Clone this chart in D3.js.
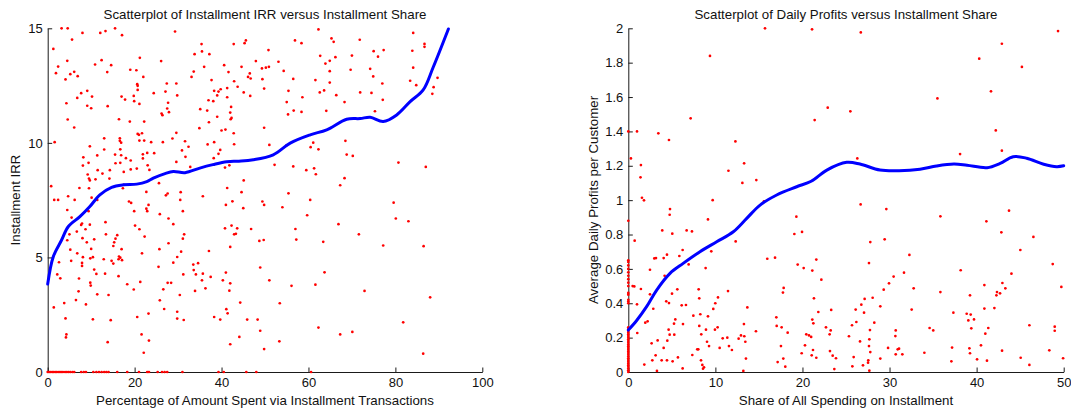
<!DOCTYPE html>
<html>
<head>
<meta charset="utf-8">
<script src="https://cdn.jsdelivr.net/npm/d3@7"></script>
<style>
  html, body { margin: 0; padding: 0; background: #fff; }
  svg { display: block; font-family: "Liberation Sans", Arial, Helvetica, sans-serif; }
</style>
</head>
<body>
<svg id="chart" width="1071" height="410"></svg>
<script>
// ---------- Left panel: installment IRR vs. installment share ----------
const irrPoints = [
  [3.2,15.0],[4.6,15.0],[8.0,14.8],[12.1,14.8],[13.3,14.88],[15.5,15.0],[17.1,14.7],[29.3,14.86],
  [5.6,14.51],[1.3,14.1],[35.4,14.31],[33.8,13.87],[35.5,13.99],[37.2,13.87],[42.8,14.31],[45.3,14.35],
  [45.6,14.47],[21.2,13.71],[26.1,13.57],[12.4,13.61],[10.9,13.42],[14.6,13.39],[4.5,13.58],[2.4,13.33],
  [1.9,13.04],[5.2,13.0],[6.1,13.1],[6.9,12.91],[4.1,12.77],[13.7,13.09],[19.0,13.19],[20.4,13.17],
  [22.0,12.88],[20.6,12.56],[20.7,12.49],[20.7,12.31],[27.4,12.59],[29.6,12.59],[33.6,13.11],[33.1,12.88],
  [36.0,13.32],[37.7,12.74],[40.6,13.39],[41.6,13.09],[44.6,13.32],[47.9,13.57],[46.5,13.03],[46.1,12.88],
  [46.7,12.81],[42.9,12.69],[43.7,12.45],[45.1,12.2],[46.6,12.05],[49.4,12.78],[49.8,12.37],[41.3,12.39],
  [38.3,12.27],[39.3,12.24],[39.0,12.07],[39.8,12.34],[37.0,11.86],[38.1,11.82],[41.3,11.99],[42.2,11.57],
  [42.0,11.32],[42.3,11.09],[42.1,11.03],[39.0,11.14],[37.1,10.9],[40.0,10.54],[40.9,10.58],[42.8,10.42],
  [36.7,11.41],[35.1,11.47],[34.9,10.64],[49.8,10.66],[7.7,12.17],[9.1,12.27],[6.8,11.96],[10.2,12.02],
  [4.3,11.73],[9.1,11.62],[10.0,11.51],[13.8,11.6],[17.0,12.02],[17.8,11.89],[19.8,12.05],[19.9,11.82],
  [21.1,11.7],[24.4,12.17],[27.1,12.24],[29.8,12.07],[27.7,11.75],[27.5,11.5],[27.9,11.34],[26.2,11.28],
  [26.4,11.21],[4.6,11.02],[6.1,10.67],[16.4,11.03],[18.9,10.93],[22.2,10.93],[1.6,10.03],[13.0,10.2],
  [16.6,10.2],[16.6,10.09],[16.9,10.01],[21.0,10.35],[20.7,10.39],[21.7,10.42],[22.2,10.1],[21.1,10.1],
  [23.8,10.03],[26.5,10.03],[28.7,10.19],[29.6,10.44],[31.6,10.07],[32.4,9.83],[30.9,9.67],[36.8,9.93],
  [38.3,10.03],[39.7,9.69],[42.9,9.94],[9.7,9.85],[13.0,9.71],[16.7,9.72],[11.4,9.45],[8.2,9.37],
  [9.4,9.13],[15.5,9.49],[16.9,9.46],[18.0,9.33],[19.1,9.23],[21.9,9.5],[22.9,9.56],[24.5,9.55],
  [8.1,9.01],[11.5,8.81],[12.6,8.66],[14.3,8.81],[15.6,9.11],[16.7,9.13],[17.5,8.73],[19.1,8.84],
  [20.5,8.88],[21.9,9.32],[23.0,9.02],[23.4,8.82],[29.6,9.17],[31.7,9.39],[32.8,8.95],[38.2,9.33],
  [39.3,9.52],[40.8,8.92],[41.8,9.02],[9.2,8.62],[9.5,8.44],[9.7,8.36],[11.0,8.41],[14.2,8.44],
  [17.5,8.17],[17.3,8.02],[25.6,8.24],[0.8,8.11],[7.3,8.03],[9.5,8.02],[45.1,8.36],[41.3,8.03],
  [44.6,7.85],[22.7,7.86],[27.6,7.79],[30.6,7.85],
  [1.5,7.51],[2.4,7.51],[4.7,7.67],[6.2,7.51],[10.1,7.61],[11.4,7.51],[18.7,7.44],[19.2,7.38],
  [19.9,7.02],[22.7,7.13],[22.9,7.02],[23.2,7.29],[27.2,7.71],[30.5,7.51],[31.1,7.02],[35.7,7.67],
  [41.0,7.29],[42.5,7.45],[45.0,7.15],[49.4,7.44],[49.8,7.29],[4.5,7.07],[5.5,6.74],[9.4,7.02],
  [25.8,6.89],[27.8,6.7],[28.9,6.45],[9.7,6.43],[7.9,6.48],[7.7,6.42],[8.7,6.23],[6.7,6.13],
  [5.0,6.01],[4.5,5.75],[5.2,5.34],[6.8,5.18],[8.0,5.84],[9.0,5.66],[10.0,5.37],[10.7,5.79],
  [13.3,6.54],[13.4,6.01],[16.0,5.97],[15.6,5.82],[15.3,5.66],[15.1,5.5],[17.0,5.36],[20.1,6.39],
  [21.1,6.23],[22.3,5.91],[21.7,5.18],[25.7,5.36],[27.8,5.62],[30.7,5.25],[29.8,5.02],[28.9,4.77],
  [31.1,5.82],[31.4,6.01],[40.8,6.27],[42.3,6.39],[43.6,6.27],[42.9,6.01],[43.3,6.03],[42.0,5.46],
  [46.8,6.24],[48.7,5.72],[49.7,5.76],[37.1,5.28],[2.6,4.79],[5.4,4.85],[8.1,5.01],[10.4,5.01],
  [7.9,4.76],[7.9,4.63],[9.8,4.96],[10.7,4.47],[11.2,4.28],[12.9,4.92],[13.2,4.29],[14.7,4.85],
  [15.1,4.73],[16.3,4.92],[16.4,5.04],[16.7,4.99],[17.1,4.88],[16.3,4.18],[25.5,4.59],[33.5,4.69],
  [34.6,4.75],[33.6,4.45],[34.1,4.26],[35.7,4.29],[37.5,4.15],[35.5,4.0],[36.3,3.65],[31.2,4.26],
  [2.2,4.26],[2.9,4.09],[7.2,4.08],[9.8,3.9],[9.9,3.77],[11.4,3.39],[14.0,3.36],[18.3,3.83],
  [19.8,3.6],[21.3,3.93],[27.6,3.89],[28.4,3.89],[26.6,3.61],[25.8,3.13],[26.8,2.75],[30.4,3.36],
  [33.9,3.54],[40.3,4.0],[41.0,4.34],[42.0,3.87],[41.8,3.55],[48.9,4.56],[44.3,3.03],[1.4,2.82],
  [3.8,3.01],[6.5,3.14],[7.1,3.52],[8.8,2.95],[10.4,2.3],[14.5,2.26],[20.6,2.4],[23.2,2.55],
  [29.8,2.63],[29.8,2.33],[31.3,2.27],[38.3,2.4],[39.7,2.29],[41.1,2.74],[41.4,2.56],[45.9,2.29],
  [48.3,2.29],[48.9,1.8],[49.8,1.0],[44.1,1.53],[42.0,1.21],[4.1,2.34],[4.3,1.64],[4.2,1.51],
  [13.8,1.3],[21.6,1.64],[23.3,1.37],[22.1,0.84],
  [60.4,7.51],[54.0,7.19],[59.7,6.84],[79.6,7.39],[80.1,6.7],[83.0,6.58],[57.0,6.24],[66.9,6.45],
  [71.6,6.01],[57.2,5.78],[63.4,5.68],[77.2,5.52],[86.5,5.49],[63.7,4.35],[51.0,4.0],[56.1,3.76],
  [61.6,3.81],[72.9,3.54],[88.0,3.26],[53.4,3.0],[81.8,2.17],[62.3,1.94],[67.3,1.64],[70.1,1.75],
  [53.3,1.34],[86.4,0.8],
  [62.3,14.95],[56.9,14.47],[58.4,14.35],[65.3,14.56],[65.8,14.41],[71.8,14.5],[50.8,14.05],[62.7,13.8],
  [63.9,13.46],[64.9,13.58],[66.2,13.74],[70.0,13.81],[75.0,14.0],[76.0,13.76],[77.3,14.05],[84.1,14.8],
  [86.7,14.32],[86.7,14.19],[83.9,14.02],[49.3,13.25],[50.2,13.28],[50.9,13.32],[53.1,13.54],[54.3,13.14],
  [56.5,12.79],[61.6,12.74],[64.9,13.13],[64.9,12.63],[63.6,12.29],[62.6,12.2],[55.4,12.27],[55.0,11.78],
  [58.6,11.99],[66.4,12.08],[68.3,11.78],[69.7,13.19],[74.2,13.23],[74.9,12.9],[77.0,12.59],[71.9,12.2],
  [74.5,12.18],[77.1,11.88],[84.1,13.28],[83.4,12.71],[84.8,12.52],[89.7,12.84],[88.8,12.43],[88.5,12.14],
  [56.6,11.41],[55.3,11.24],[58.4,11.35],[64.1,11.4],[75.3,11.38],[51.0,9.91],[54.9,9.88],[61.1,10.01],
  [60.5,9.81],[62.3,9.72],[68.5,10.09],[68.8,9.49],[70.2,9.43],[52.2,9.04],[56.5,8.97],[59.5,8.81],
  [61.3,8.89],[61.7,8.63],[68.3,8.46],[67.3,8.15],[80.7,9.14],[87.0,8.95],[55.4,7.8]
];
// customers whose installment IRR is zero
const irrZeroShares = [
  0,0.3,0.6,1.0,1.3,1.7,2.0,2.4,2.8,3.1,3.5,4.0,4.4,4.8,5.2,5.7,6.1,
  7.7,8.3,8.8,10.5,11.2,11.8,12.4,13.0,13.5,14.0,16.0,18.3,21.0,22.9,23.3,
  25.3,26.3,26.9,27.5,31.0,39.3,40.5,45.7,48.0,60.6
];
// smoothed fit of IRR on share
const irrFit = [
  [0,3.84],[1.3,5.04],[3.2,5.76],[4.75,6.35],[7.4,6.78],[9.7,7.22],[12,7.73],[14.7,8.06],
  [17.4,8.17],[20.5,8.2],[22.8,8.31],[24.3,8.46],[27,8.66],[28.9,8.75],[31.6,8.7],[35,8.9],
  [38,9.05],[41.2,9.18],[44,9.2],[47.3,9.26],[51.9,9.48],[55.8,9.99],[60.4,10.35],[64.2,10.57],
  [68.8,11.03],[71.9,11.06],[74.2,11.12],[77.2,10.93],[80.3,11.22],[83.4,11.8],[86.4,12.31],
  [88.7,13.3],[92.2,14.97]
];
const irrXTicks = [0, 20, 40, 60, 80, 100];
const irrYTicks = [0, 5, 10, 15];

// ---------- Right panel: daily profits vs. installment share ----------
const profitPoints = [
  [0.0,1.40],[1.0,1.40],[0.3,1.243],[1.45,1.204],[1.4,1.133],[3.45,1.389],[4.67,1.35],[7.16,1.476],
  [9.38,1.839],[12.3,1.342],[11.5,1.171],[13.3,1.214],[13.1,1.10],[14.7,1.117],[15.7,2.0],[21.1,1.994],
  [22.9,1.538],[21.4,1.466],
  [26.7,1.976],[25.5,1.517],[26.3,1.243],[35.5,1.592],[40.3,1.823],[42.9,1.91],[45.2,1.775],[41.65,1.633],
  [42.2,1.406],[42.9,1.288],[38.1,1.268],[49.35,1.984],
  [1.57,1.014],[1.8,0.999],[9.69,1.0],[15.58,0.993],[4.79,0.948],[4.75,0.915],[5.05,0.805],[3.9,0.824],
  [0.73,0.764],[6.7,0.824],[7.31,0.818],[9.15,0.888],[9.53,0.702],[12.33,0.76],[6.24,0.71],[5.86,0.675],
  [4.44,0.683],[4.06,0.663],[2.99,0.661],[3.18,0.663],[2.49,0.595],[4.17,0.56],[6.93,0.626],[8.88,0.605],
  [0.5,0.5],[0.69,0.498],[1.45,0.483],[2.49,0.452],[1.0,0.394],[4.36,0.411],[4.67,0.401],[5.63,0.481],
  [5.02,0.456],[2.87,0.368],[6.13,0.388],[6.62,0.39],[8.08,0.481],[8.15,0.429],[5.4,0.306],[5.25,0.281],
  [6.28,0.279],[7.47,0.328],[8.27,0.336],[9.15,0.324],[9.76,0.367],[9.99,0.40],[10.3,0.434],[11.45,0.471],
  [13.67,0.376],[1.03,0.227],[1.95,0.287],[2.22,0.295],[4.63,0.246],[4.75,0.217],[5.28,0.217],[4.48,0.182],
  [3.37,0.184],[2.68,0.167],[8.15,0.268],[8.38,0.219],[9.04,0.176],[9.27,0.151],[7.92,0.132],[8.04,0.132],
  [4.06,0.14],[3.14,0.097],[2.76,0.068],[3.83,0.068],[4.44,0.068],[5.09,0.062],[5.7,0.085],[7.35,0.099],
  [8.35,0.068],[8.5,0.041],[8.69,0.027],[8.58,0.019],[6.24,0.021],[1.84,0.043],[3.29,0.006],[8.92,0.246],
  [9.95,0.246],[10.26,0.26],[10.49,0.14],[10.84,0.196],[11.37,0.2],[11.56,0.151],[11.9,0.128],[12.67,0.194],
  [12.94,0.213],[13.32,0.208],[13.44,0.176],[13.28,0.279],[13.51,0.078],[13.21,0.006],[14.66,0.237],[15.96,0.659],
  [16.85,0.665],[17.04,0.268],[17.15,0.058],[17.61,0.26],[17.84,0.489],[17.76,0.462],[17.53,0.151],[17.8,0.078],
  [18.03,0.031],[18.3,0.229],[17.0,0.318],[19.07,0.803],[19.3,0.904],[19.95,0.815],[19.45,0.625],[20.14,0.605],
  [21.13,0.59],[21.59,0.654],[22.17,0.537],[21.32,0.429],[21.82,0.349],[21.13,0.305],[21.25,0.283],[20.44,0.219],
  [20.75,0.213],[21.0,0.204],[20.29,0.155],[19.91,0.109],[21.21,0.128],[21.06,0.097],[21.59,0.083],[22.7,0.26],
  [23.24,0.242],[23.12,0.219],[23.3,0.361],[23.16,0.122],[23.47,0.095],[23.85,0.08],[23.66,0.017],
  [26.68,0.975],[29.63,0.948],[35.84,0.906],[41.12,0.877],[43.72,0.939],[42.84,0.813],[46.52,0.786],[27.79,0.756],
  [29.44,0.772],[45.02,0.71],[32.28,0.681],[27.64,0.634],[48.74,0.628],[38.17,0.592],[44.0,0.572],[30.47,0.555],
  [31.66,0.578],[29.94,0.516],[29.33,0.479],[32.77,0.487],[35.84,0.465],[39.24,0.446],[40.89,0.506],[42.96,0.518],
  [43.3,0.487],[42.34,0.465],[42.27,0.446],[42.69,0.458],[49.73,0.495],[27.14,0.425],[28.06,0.432],[26.76,0.392],
  [26.11,0.363],[28.94,0.382],[32.54,0.363],[27.07,0.345],[37.33,0.345],[38.86,0.339],[39.32,0.334],[40.89,0.369],
  [42.04,0.372],[39.05,0.3],[39.7,0.306],[25.69,0.272],[26.19,0.291],[28.25,0.287],[27.75,0.244],[30.71,0.242],
  [30.67,0.209],[34.6,0.256],[35.02,0.242],[39.39,0.254],[41.34,0.256],[41.0,0.223],[46.06,0.272],[48.97,0.264],
  [48.97,0.24],[25.34,0.208],[26.61,0.178],[27.68,0.19],[27.64,0.151],[27.79,0.116],[29.83,0.14],[30.94,0.132],
  [31.09,0.136],[30.71,0.103],[31.47,0.103],[34.0,0.112],[37.18,0.142],[39.17,0.138],[39.24,0.109],[40.5,0.155],
  [42.92,0.124],[48.35,0.126],[25.88,0.087],[28.94,0.078],[27.56,0.068],[27.53,0.054],[26.95,0.039],[25.73,0.033],
  [27.68,0.008],[37.1,0.062],[40.05,0.074],[41.19,0.066],[45.06,0.083],[46.06,0.041],[49.93,0.08]
];
// customers with no installment spending
const profitZeroValues = [
  0.88,0.65,0.64,0.62,0.6,0.58,0.56,0.54,0.52,0.5,0.46,0.45,0.42,0.41,0.4,
  0.26,0.25,0.24,0.23,0.22,0.21,0.2,0.19,0.18,0.17,0.16,0.15,0.14,0.13,0.12,
  0.11,0.1,0.09,0.08,0.07,0.06,0.05,0.04,0.03,0.02,0.01,0
];
// smoothed fit of profits on share
const profitFit = [
  [0,0.244],[0.96,0.30],[2.1,0.38],[3.26,0.477],[4.79,0.574],[6.3,0.632],[8.23,0.70],[10.15,0.758],
  [12.06,0.816],[13.6,0.894],[15.1,0.97],[17.04,1.03],[19.34,1.078],[21.0,1.11],[22.8,1.175],[25.08,1.22],
  [26.6,1.21],[28.9,1.175],[31.1,1.171],[33.5,1.18],[35.4,1.199],[37.4,1.21],[38.9,1.203],[41.2,1.189],
  [42.7,1.214],[44.2,1.253],[45.75,1.244],[47.7,1.209],[49.2,1.195],[50,1.2]
];
const profitXTicks = [0, 10, 20, 30, 40, 50];
const profitYTicks = [0, 0.2, 0.4, 0.6, 0.8, 1, 1.2, 1.4, 1.6, 1.8, 2];

const svg = d3.select("#chart");

function panel(opts) {
  const x = d3.scaleLinear().domain(opts.xDomain).range([opts.left, opts.right]);
  const y = d3.scaleLinear().domain(opts.yDomain).range([372, 28.3]);
  const g = svg.append("g");

  // axes first so the markers sit on top of the axis lines
  const xAxis = g.append("g").attr("transform", "translate(0,372)")
    .call(d3.axisBottom(x).tickValues(opts.xTicks).tickSizeInner(-4.5).tickSizeOuter(0).tickPadding(6).tickFormat(d3.format("~g")));
  const yAxis = g.append("g").attr("transform", `translate(${opts.left},0)`)
    .call(d3.axisLeft(y).tickValues(opts.yTicks).tickSizeInner(-4.5).tickSizeOuter(0).tickPadding(5).tickFormat(d3.format("~g")));
  [xAxis, yAxis].forEach(a => {
    a.selectAll("path, line").attr("stroke", "#1a1a1a");
    a.selectAll("text").attr("font-size", 13).attr("fill", "#111")
      .attr("font-family", "'Liberation Sans', Arial, sans-serif");
  });

  const dots = g.append("g").attr("fill", "#ff0000");
  dots.selectAll("circle.p").data(opts.points).join("circle")
    .attr("cx", d => x(d[0])).attr("cy", d => y(d[1])).attr("r", 1.35);
  dots.selectAll("circle.z").data(opts.zeroPoints).join("circle")
    .attr("cx", d => x(d[0])).attr("cy", d => y(d[1])).attr("r", 1.35);

  g.append("path").datum(opts.fit)
    .attr("fill", "none").attr("stroke", "#0000ff").attr("stroke-width", 3)
    .attr("stroke-linejoin", "round").attr("stroke-linecap", "round")
    .attr("d", d3.line().x(d => x(d[0])).y(d => y(d[1])).curve(d3.curveCatmullRom.alpha(0.5)));

  const cx = (opts.left + opts.right) / 2;
  g.append("text").attr("x", cx).attr("y", 18.5).attr("text-anchor", "middle")
    .attr("font-size", 13.3).attr("fill", "#111").text(opts.title);
  g.append("text").attr("x", cx).attr("y", 404.5).attr("text-anchor", "middle")
    .attr("font-size", 13.3).attr("fill", "#111").text(opts.xLabel);
  g.append("text").attr("transform", `translate(${opts.yLabelX},200) rotate(-90)`)
    .attr("text-anchor", "middle").attr("font-size", 13.3).attr("fill", "#111").text(opts.yLabel);
}

panel({
  left: 47.7, right: 482.3, xDomain: [0, 100], yDomain: [0, 15],
  points: irrPoints, zeroPoints: irrZeroShares.map(s => [s, 0]), fit: irrFit,
  xTicks: irrXTicks, yTicks: irrYTicks,
  title: "Scatterplot of Installment IRR versus Installment Share",
  xLabel: "Percentage of Amount Spent via Installment Transactions",
  yLabel: "Installment IRR", yLabelX: 20
});

panel({
  left: 628.3, right: 1063.7, xDomain: [0, 50], yDomain: [0, 2],
  points: profitPoints, zeroPoints: profitZeroValues.map(v => [0, v]), fit: profitFit,
  xTicks: profitXTicks, yTicks: profitYTicks,
  title: "Scatterplot of Daily Profits versus Installment Share",
  xLabel: "Share of All Spending on Installment",
  yLabel: "Average Daily Profits per Customer", yLabelX: 598
});
</script>
</body>
</html>
